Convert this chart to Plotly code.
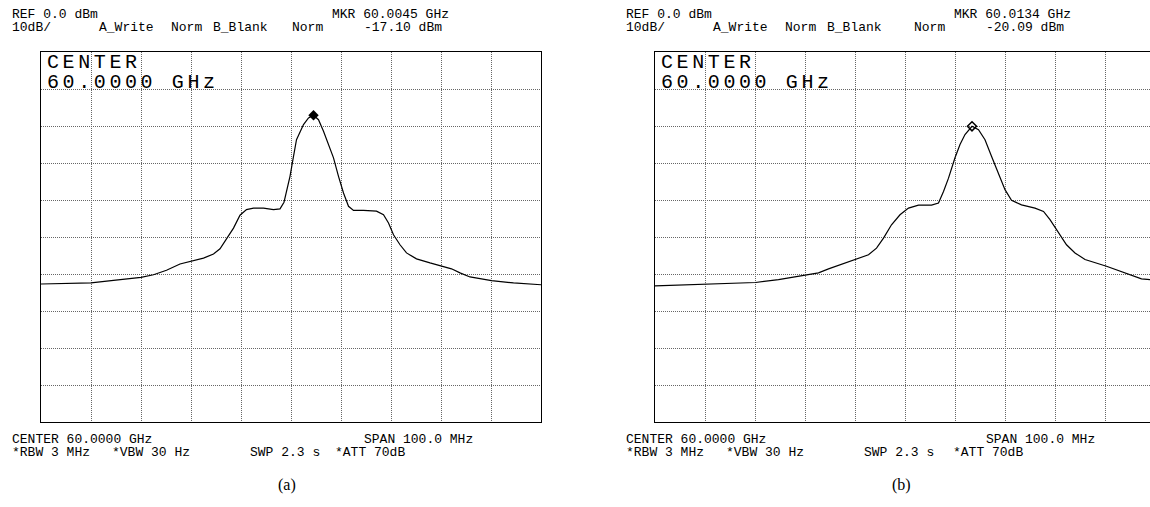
import plotly.graph_objects as go

W, H = 1150, 507

# trace A: offset from 60 GHz centre (MHz) and level (dBm)
freq_a = [-50, -42.2, -40, -35.5, -30, -27.5, -24.9, -22.2, -19.9, -17.5, -15.5, -14.2,
          -12.9, -11.5, -10.2, -8.9, -7.5, -5.5, -3.5, -2.2, -1.4, -0.9, -0.2, 0.5, 1.1,
          2.5, 3.5, 4.5, 5.5, 6.5, 7.5, 8.5, 9.5, 10.5, 11.5, 12.5, 14.5, 17.1, 18.5,
          19.5, 20.5, 21.8, 23.1, 25.1, 27.8, 30.5, 32.1, 33.8, 35.8, 40.1, 44.5, 50]
level_a = [-62.7, -62.5, -62.4, -61.7, -60.9, -60.2, -59.0, -57.3, -56.6, -55.7, -54.6, -53.2,
           -50.5, -47.6, -44.1, -42.6, -42.2, -42.2, -42.6, -42.4, -40.6, -37.7, -33.6, -28.2, -23.7,
           -19.6, -17.8, -17.1, -18.3, -21.4, -25.0, -28.6, -33.6, -38.1, -41.7, -42.8, -42.8, -43.0, -44.0,
           -46.2, -49.4, -52.1, -54.3, -55.9, -57.0, -57.9, -58.6, -59.7, -60.8, -61.8, -62.4, -62.9]
mkr_a = (4.5, -17.10)

# trace B
freq_b = [-50, -43.3, -40, -34, -29.9, -25.3, -19.9, -17.3, -15.3, -12, -9.9, -7.3, -5.7, -4.3,
          -2.7, -1.0, 0.7, 2.7, 5.3, 6.7, 7.7, 8.7, 10, 11, 12, 13.4, 14.7, 16, 17.3, 18.7, 20,
          21.3, 23.3, 26, 27.7, 29, 30.7, 32.3, 34, 36, 40.3, 42.7, 44.7, 47.3, 49, 50]
level_b = [-63.2, -62.9, -62.9, -62.6, -62.3, -61.5, -60.4, -59.7, -58.6, -57.0, -56.1, -54.8, -53.0, -50.3,
           -46.7, -44.0, -42.2, -41.4, -41.4, -40.8, -37.7, -34.1, -28.6, -25.0, -22.3, -20.09, -21.0, -23.7,
           -28.2, -32.7, -37.2, -40.1, -41.3, -42.2, -43.1, -45.3, -48.9, -52.1, -54.3, -56.1, -57.9, -59.1,
           -60.2, -61.3, -61.5, -61.7]
mkr_b = (13.4, -20.09)

header_a = ["MKR 60.0045 GHz", "-17.10 dBm"]
header_b = ["MKR 60.0134 GHz", "-20.09 dBm"]

fig = go.Figure()

fig.add_trace(go.Scatter(x=freq_a, y=level_a, mode="lines", line=dict(color="black", width=1.2),
                         xaxis="x", yaxis="y"))
fig.add_trace(go.Scatter(x=[mkr_a[0]], y=[mkr_a[1]], mode="markers",
                         marker=dict(symbol="diamond", size=8, color="black"), xaxis="x", yaxis="y"))
fig.add_trace(go.Scatter(x=freq_b, y=level_b, mode="lines", line=dict(color="black", width=1.2),
                         xaxis="x2", yaxis="y2"))
fig.add_trace(go.Scatter(x=[mkr_b[0]], y=[mkr_b[1]], mode="markers",
                         marker=dict(symbol="diamond-open", size=7, color="black", line=dict(width=1.5)),
                         xaxis="x2", yaxis="y2"))

axis_style = dict(showgrid=True, gridcolor="#666", griddash="1px,1px", gridwidth=1, dtick=10,
                  showticklabels=False, ticks="", zeroline=False, showline=True, mirror=True,
                  linecolor="black", linewidth=1, fixedrange=True)

ytop, ybot = 1 - 52 / H, 1 - 422 / H

fig.update_layout(
    width=W, height=H, margin=dict(l=0, r=0, t=0, b=0),
    paper_bgcolor="white", plot_bgcolor="white", showlegend=False,
    xaxis=dict(domain=[41 / W, 541 / W], range=[-50, 50], tick0=-50, **axis_style),
    yaxis=dict(domain=[ybot, ytop], range=[-100, 0], tick0=-100, anchor="x", **axis_style),
    xaxis2=dict(domain=[655 / W, 1.0], range=[-50, 49], tick0=-50, anchor="y2", **axis_style),
    yaxis2=dict(domain=[ybot, ytop], range=[-100, 0], tick0=-100, anchor="x2", **axis_style),
)


def txt(px, py, s, size=13, family="Liberation Mono", anchor="left", box_h=None):
    fig.add_annotation(x=px / W, y=1 - py / H, xref="paper", yref="paper", text=s,
                       showarrow=False, xanchor=anchor, yanchor="middle", height=box_h,
                       font=dict(family=family, size=size, color="black"))


# the second screenshot's right-hand fields sit a few pixels further right
for off, dx, hdr in [(0, 0, header_a), (614, 8, header_b)]:
    txt(10 + off, 14.5, "REF 0.0 dBm")
    txt(330 + off + dx, 14.5, hdr[0])
    txt(10 + off, 27.5, "10dB/")
    txt(97 + off, 27.5, "A_Write")
    txt(169 + off, 27.5, "Norm")
    txt(211 + off, 27.5, "B_Blank")
    txt(290 + off + dx, 27.5, "Norm")
    txt(362 + off + dx, 27.5, hdr[1])
    txt(10 + off, 439, "CENTER 60.0000 GHz")
    txt(362 + off + dx, 439, "SPAN 100.0 MHz")
    txt(10 + off, 452, "*RBW 3 MHz")
    txt(110 + off, 452, "*VBW 30 Hz")
    txt(248 + off, 452, "SWP 2.3 s")
    txt(333 + off + dx // 2, 452, "*ATT 70dB")
    # on-screen centre readout
    txt(45 + off, 62, '<span style="letter-spacing:3.6px">CENTER</span>', size=20, box_h=18)
    txt(45 + off, 82, '<span style="letter-spacing:3.6px">60.0000 GHz</span>', size=20, box_h=18)

txt(287, 485, "(a)", size=16, family="Liberation Serif", anchor="center")
txt(901, 485, "(b)", size=16, family="Liberation Serif", anchor="center")

# page body has a default 8px margin; drop it so the figure sits at the window origin
fig.write_html("out.html", config={"displayModeBar": False},
               post_script="document.body.style.margin='0';")
